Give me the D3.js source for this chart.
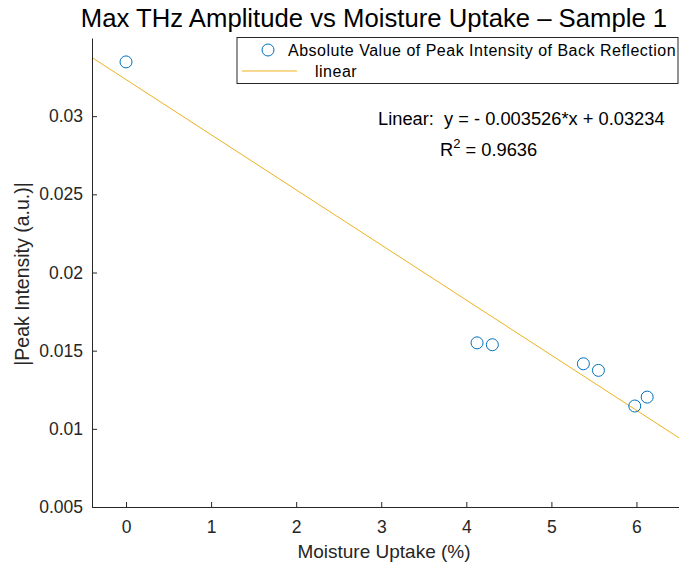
<!DOCTYPE html>
<html>
<head>
<meta charset="utf-8">
<script src="https://cdn.jsdelivr.net/npm/d3@7"></script>
<style>
  body { margin: 0; background: #fff; }
  svg { font-family: "Liberation Sans", Arial, sans-serif; }
</style>
</head>
<body>
<div id="chart"></div>
<script>
// measured points
const moisture = [0, 4.126, 4.306, 5.376, 5.553, 5.98, 6.126];
const peak = [0.03347, 0.0155, 0.01538, 0.01416, 0.01374, 0.01146, 0.01203];
const fitSlope = -0.003526;
const fitIntercept = 0.03234;
const xTicks = [0, 1, 2, 3, 4, 5, 6];
const yTicks = [0.005, 0.01, 0.015, 0.02, 0.025, 0.03];

const width = 679, height = 569;
const margin = { top: 38, right: 0, bottom: 62, left: 92 };

const svg = d3.select('#chart').append('svg')
  .attr('width', width)
  .attr('height', height);

const x = d3.scaleLinear().domain([-0.4, 6.5]).range([margin.left, width - margin.right]);
const y = d3.scaleLinear().domain([0.005, 0.035]).range([height - margin.bottom, margin.top]);

const ink = '#262626';

// fit line across the whole x range
const lineX = x.domain();
svg.append('line')
  .attr('x1', x(lineX[0])).attr('y1', y(fitSlope * lineX[0] + fitIntercept))
  .attr('x2', x(lineX[1])).attr('y2', y(fitSlope * lineX[1] + fitIntercept))
  .attr('stroke', '#EDB120')
  .attr('stroke-width', 1);

// points
svg.append('g')
  .selectAll('circle').data(moisture)
  .enter().append('circle')
  .attr('cx', d => x(d))
  .attr('cy', (_, i) => y(peak[i]))
  .attr('r', 6)
  .attr('fill', 'none')
  .attr('stroke', '#0072BD')
  .attr('stroke-width', 1);

// axes, ticks pointing inward
const xAxis = d3.axisBottom(x).tickValues(xTicks).tickSizeInner(-5).tickSizeOuter(0).tickPadding(14)
  .tickFormat(d3.format('d'));
const yAxis = d3.axisLeft(y).tickValues(yTicks).tickSizeInner(-5).tickSizeOuter(0).tickPadding(9)
  .tickFormat(d => String(+d.toFixed(3)));

const gx = svg.append('g')
  .attr('transform', `translate(0, ${height - margin.bottom})`)
  .call(xAxis);
const gy = svg.append('g')
  .attr('transform', `translate(${margin.left}, 0)`)
  .call(yAxis);

[gx, gy].forEach(g => {
  g.select('.domain').attr('stroke', ink);
  g.selectAll('.tick line').attr('stroke', ink);
  g.selectAll('.tick text').attr('fill', ink).attr('font-size', 17.5)
    .attr('font-family', '"Liberation Sans", Arial, sans-serif');
});

// labels
svg.append('text')
  .attr('x', 374).attr('y', 27)
  .attr('text-anchor', 'middle')
  .attr('font-size', 25.7)
  .attr('fill', '#000')
  .text('Max THz Amplitude vs Moisture Uptake \u2013 Sample 1');

svg.append('text')
  .attr('x', 384).attr('y', 558)
  .attr('text-anchor', 'middle')
  .attr('font-size', 19)
  .attr('fill', ink)
  .text('Moisture Uptake (%)');

svg.append('text')
  .attr('transform', `translate(29, 274) rotate(-90)`)
  .attr('text-anchor', 'middle')
  .attr('font-size', 19.5)
  .attr('fill', ink)
  .text('|Peak Intensity (a.u.)|');

// fit annotation
svg.append('text')
  .attr('x', 378).attr('y', 125)
  .attr('font-size', 18.3)
  .attr('fill', '#000')
  .attr('xml:space', 'preserve')
  .text('Linear:  y = - 0.003526*x + 0.03234');

const r2 = svg.append('text')
  .attr('x', 440).attr('y', 156)
  .attr('font-size', 18.3)
  .attr('fill', '#000');
r2.append('tspan').text('R');
r2.append('tspan').attr('dy', -8).attr('font-size', 13).text('2');
r2.append('tspan').attr('dy', 8).text(' = 0.9636');

// legend
const legend = svg.append('g');
legend.append('rect')
  .attr('x', 237).attr('y', 37.5)
  .attr('width', 441).attr('height', 46)
  .attr('fill', '#fff')
  .attr('stroke', ink)
  .attr('stroke-width', 1);
legend.append('circle')
  .attr('cx', 268).attr('cy', 50).attr('r', 6)
  .attr('fill', 'none').attr('stroke', '#0072BD');
legend.append('text')
  .attr('x', 288).attr('y', 56)
  .attr('font-size', 16).attr('letter-spacing', 0.5).attr('fill', '#000')
  .text('Absolute Value of Peak Intensity of Back Reflection');
legend.append('line')
  .attr('x1', 242).attr('x2', 297).attr('y1', 71).attr('y2', 71)
  .attr('stroke', '#EDB120');
legend.append('text')
  .attr('x', 315).attr('y', 77)
  .attr('font-size', 16).attr('letter-spacing', 0.5).attr('fill', '#000')
  .text('linear');
</script>
</body>
</html>
